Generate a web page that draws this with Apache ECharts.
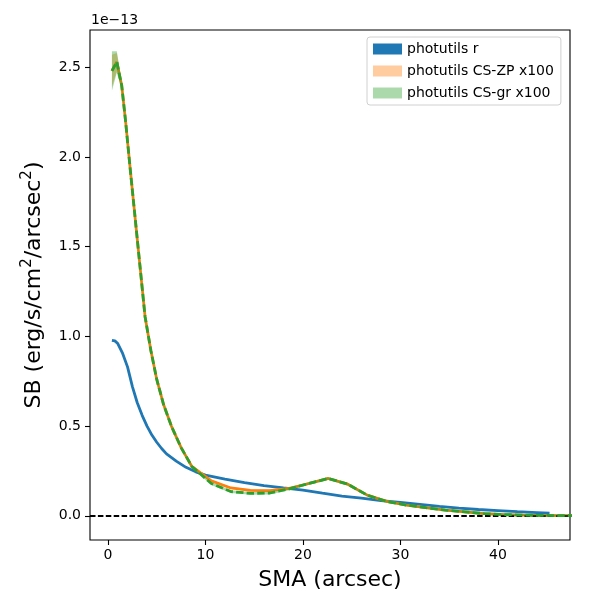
<!DOCTYPE html>
<html>
<head>
<meta charset="utf-8">
<script src="https://cdn.jsdelivr.net/npm/echarts@6/dist/echarts.min.js"></script>
<style>
  html, body { margin: 0; padding: 0; background: #fff; }
  #chart { width: 600px; height: 600px; }
</style>
</head>
<body>
<div id="chart"></div>
<script>
// values are in units of 1e-13
var xTicks = [0, 10, 20, 30, 40];
var yTicks = [0, 0.5, 1.0, 1.5, 2.0, 2.5];

// photutils r
var rX = [0.4, 0.7, 1.0, 1.5, 2.0, 2.5, 3.0, 3.5, 4.0, 4.5, 5.0, 5.5, 6.0, 7.0, 8.0, 9.0, 10, 12, 14, 16, 18, 20, 22, 24, 26, 28, 30, 32, 34, 36, 38, 40, 42, 44, 45.3];
var rY = [0.978, 0.975, 0.96, 0.905, 0.83, 0.72, 0.63, 0.56, 0.50, 0.45, 0.41, 0.375, 0.345, 0.305, 0.27, 0.245, 0.227, 0.205, 0.185, 0.168, 0.155, 0.143, 0.126, 0.11, 0.098, 0.085, 0.075, 0.064, 0.052, 0.043, 0.035, 0.029, 0.023, 0.018, 0.014];

// CS-ZP and CS-gr profiles (x100), same radii
var csX = [0.4, 0.9, 1.4, 1.8, 2.3, 2.8, 3.3, 3.8, 4.4, 5.0, 5.7, 6.5, 7.5, 8.6, 10.6, 12.6, 14.6, 16.6, 18.6, 20.6, 22.6, 24.6, 26.6, 28.6, 30.6, 32.6, 34.6, 36.6, 38.6, 40.6, 42.6, 44.6, 46.6, 48.6];
var zpY = [2.48, 2.53, 2.40, 2.20, 1.92, 1.65, 1.38, 1.11, 0.92, 0.76, 0.62, 0.50, 0.38, 0.275, 0.195, 0.155, 0.142, 0.140, 0.153, 0.18, 0.208, 0.176, 0.115, 0.08, 0.06, 0.045, 0.032, 0.022, 0.012, 0.007, 0.004, 0.002, 0.001, 0.0];
var zpErr = [0.09, 0.05, 0.02, 0.015, 0.012, 0.01, 0.01, 0.008, 0.008, 0.008, 0.007, 0.007, 0.006, 0.006, 0.006, 0.006, 0.006, 0.006, 0.006, 0.006, 0.006, 0.006, 0.005, 0.005, 0.005, 0.005, 0.005, 0.005, 0.005, 0.005, 0.005, 0.005, 0.005, 0.005];
var grY = [2.48, 2.53, 2.40, 2.20, 1.92, 1.65, 1.38, 1.11, 0.92, 0.76, 0.62, 0.50, 0.38, 0.275, 0.18, 0.135, 0.125, 0.127, 0.15, 0.18, 0.208, 0.176, 0.115, 0.08, 0.06, 0.045, 0.032, 0.022, 0.012, 0.007, 0.004, 0.002, 0.001, 0.0];
var grErr = [0.11, 0.06, 0.025, 0.018, 0.014, 0.012, 0.011, 0.01, 0.01, 0.01, 0.009, 0.009, 0.008, 0.008, 0.008, 0.008, 0.008, 0.008, 0.008, 0.008, 0.008, 0.008, 0.007, 0.007, 0.007, 0.007, 0.007, 0.007, 0.007, 0.007, 0.007, 0.007, 0.007, 0.007];

var FONT = "DejaVu Sans";

function pairs(xs, ys) {
    var out = [];
    for (var i = 0; i < xs.length; i++) {
        out.push([xs[i], ys[i]]);
    }
    return out;
}

// fill_between style band as a clipped polygon
function band(name, xs, ys, err, color, z) {
    return {
        name: name,
        type: "custom",
        z: z,
        itemStyle: {color: color},
        data: [[xs[0], ys[0]]],
        silent: true,
        renderItem: function (params, api) {
            var pts = [];
            for (var i = 0; i < xs.length; i++) {
                pts.push(api.coord([xs[i], ys[i] + err[i]]));
            }
            for (var j = xs.length - 1; j >= 0; j--) {
                pts.push(api.coord([xs[j], ys[j] - err[j]]));
            }
            var cs = params.coordSys;
            return {
                type: "polygon",
                shape: {points: pts},
                style: {fill: color},
                clipPath: {type: "rect", shape: {x: cs.x, y: cs.y, width: cs.width, height: cs.height}}
            };
        }
    };
}

var chart = echarts.init(document.getElementById("chart"), null, {renderer: "canvas"});

chart.setOption({
    animation: false,
    backgroundColor: "#fff",
    textStyle: {fontFamily: FONT, color: "#000"},
    grid: {left: 90, right: 30, top: 30, bottom: 60, show: true, borderColor: "#000", borderWidth: 1.1, backgroundColor: "transparent"},
    legend: {
        left: 367, top: 37,
        orient: "vertical",
        icon: "rect",
        itemWidth: 29, itemHeight: 11, itemGap: 8,
        padding: [5, 7, 5, 6],
        backgroundColor: "#fff",
        borderColor: "#d0d0d0", borderWidth: 1, borderRadius: 3,
        itemStyle: {borderWidth: 0},
        textStyle: {fontFamily: FONT, fontSize: 14, color: "#000", lineHeight: 14},
        data: ["photutils r", "photutils CS-ZP x100", "photutils CS-gr x100"]
    },
    xAxis: {
        type: "value",
        min: -1.85, max: 47.4,
        name: "SMA (arcsec)",
        nameLocation: "middle",
        nameGap: 29,
        nameTextStyle: {fontFamily: FONT, fontSize: 22, color: "#000"},
        axisLine: {show: false, onZero: false},
        splitLine: {show: false},
        axisTick: {show: true, inside: false, length: 5, lineStyle: {color: "#000", width: 1.1}, customValues: xTicks},
        axisLabel: {fontFamily: FONT, fontSize: 14, color: "#000", margin: 8, customValues: xTicks}
    },
    yAxis: {
        type: "value",
        min: -0.135, max: 2.708,
        name: "SB (erg/s/cm{s|2}/arcsec{s|2})",
        nameLocation: "middle",
        nameGap: 37,
        nameTextStyle: {
            fontFamily: FONT, fontSize: 22, color: "#000", lineHeight: 28,
            rich: {s: {fontFamily: FONT, fontSize: 15, color: "#000", verticalAlign: "top", lineHeight: 18}}
        },
        axisLine: {show: false, onZero: false},
        splitLine: {show: false},
        axisTick: {show: true, inside: false, length: 5, lineStyle: {color: "#000", width: 1.1}, customValues: yTicks},
        axisLabel: {
            fontFamily: FONT, fontSize: 14, color: "#000", margin: 9, customValues: yTicks,
            formatter: function (v) { return v.toFixed(1); }
        }
    },
    graphic: [{
        type: "text", left: 91, top: 13,
        style: {text: "1e\u221213", fontFamily: FONT, fontSize: 14, fill: "#000"}
    }],
    series: [
        {
            name: "photutils r", type: "line", z: 2,
            data: pairs(rX, rY),
            showSymbol: false, symbol: "none",
            itemStyle: {color: "#1f77b4"},
            lineStyle: {color: "#1f77b4", width: 2.8}
        },
        band("photutils CS-ZP x100", csX, zpY, zpErr, "rgba(255,127,14,0.4)", 3),
        {
            name: "zp line", type: "line", z: 4,
            data: pairs(csX, zpY),
            showSymbol: false, symbol: "none",
            lineStyle: {color: "#ff7f0e", width: 2.8}
        },
        band("photutils CS-gr x100", csX, grY, grErr, "rgba(44,160,44,0.4)", 5),
        {
            name: "gr line", type: "line", z: 6,
            data: pairs(csX, grY),
            showSymbol: false, symbol: "none",
            lineStyle: {color: "#2ca02c", width: 2.8, type: [7.4, 3.2]},
            markLine: {
                silent: true, symbol: "none", label: {show: false},
                lineStyle: {color: "#000", width: 2, type: [5.5, 2.4]},
                data: [{yAxis: 0}]
            }
        }
    ]
});
</script>
</body>
</html>
